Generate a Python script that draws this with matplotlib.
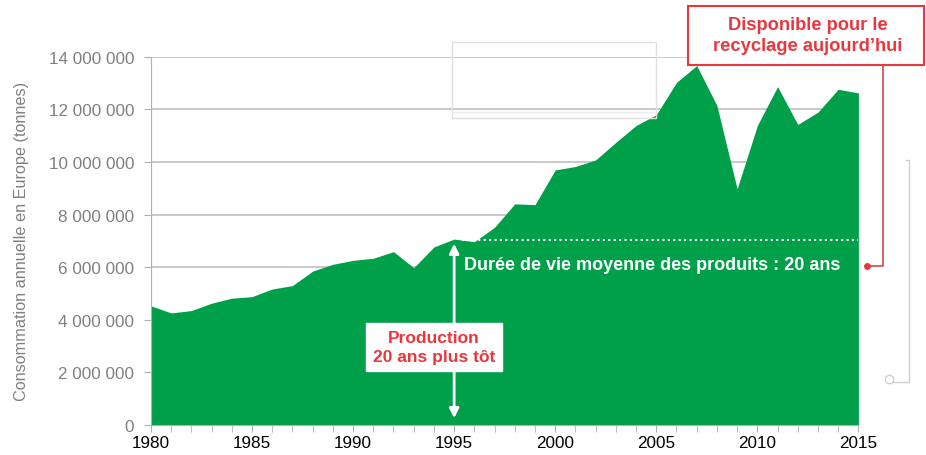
import numpy as np
import matplotlib
matplotlib.use("Agg")
import matplotlib.pyplot as plt
from matplotlib.ticker import FuncFormatter
from matplotlib.patches import Rectangle

# -------- Data --------
years = list(range(1980, 2016))
consumption = [4.53, 4.26, 4.35, 4.63, 4.82, 4.88, 5.17, 5.30, 5.85, 6.11,
               6.26, 6.34, 6.59, 5.98, 6.77, 7.07, 6.97, 7.52, 8.41, 8.38,
               9.70, 9.83, 10.08, 10.75, 11.39, 11.80, 13.03, 13.67, 12.15, 8.98,
               11.39, 12.87, 11.43, 11.90, 12.77, 12.63]
consumption = [v * 1e6 for v in consumption]
lifetime_level = 7.05e6
year_ticks = [1980, 1985, 1990, 1995, 2000, 2005, 2010, 2015]

green = '#009F4A'
red = '#E8383D'
grey = '#808080'

plt.rcParams['font.family'] = ['Liberation Sans', 'DejaVu Sans']

fig = plt.figure(figsize=(9.26, 4.56), dpi=100)
ax = fig.add_axes([0.163, 0.066, 0.764, 0.807])

ax.fill_between(years, consumption, 0, color=green, linewidth=0, zorder=2)

ax.set_xlim(1980, 2015)
ax.set_ylim(0, 14e6)
ax.set_yticks(np.arange(0, 14e6 + 1, 2e6))
ax.yaxis.set_major_formatter(FuncFormatter(lambda v, p: f"{int(v):,}".replace(",", " ")))
ax.set_xticks(year_ticks)
ax.set_xticks(years, minor=True)
ax.grid(axis='y', color='#C0C0C0', linewidth=1.2, zorder=1)

for s in ['top', 'right']:
    ax.spines[s].set_visible(False)
ax.spines['left'].set_color('#B0B0B0')
ax.spines['bottom'].set_color('#B0B0B0')
ax.spines['left'].set_zorder(3)

ax.tick_params(axis='y', colors='#B0B0B0', labelcolor=grey, labelsize=12.3, length=5, pad=7)
ax.tick_params(axis='x', which='both', colors='#B0B0B0', labelcolor='black', labelsize=12.3,
               length=5, direction='out', pad=2)
ax.set_ylabel("Consommation annuelle en Europe (tonnes)", color=grey, fontsize=11.7, labelpad=14)

# dotted lifetime line and text
ax.plot([1995.4, 2015], [lifetime_level, lifetime_level], color='white', linestyle=(0, (1, 1.6)),
        linewidth=1.5, zorder=4)
ax.text(1995.5, 6.12e6, "Durée de vie moyenne des produits : 20 ans", color='white',
        fontsize=13, fontweight='bold', va='center', ha='left', zorder=5)

# double arrow at 1995
ax.annotate('', xy=(1995, 0.15e6), xytext=(1995, 7.0e6),
            arrowprops=dict(arrowstyle='<|-|>', color='white', lw=2, mutation_scale=14), zorder=5)
ax.text(1994, 2.95e6, "Production\n20 ans plus tôt", color=red, fontsize=12.5, fontweight='bold',
        ha='center', va='center', linespacing=1.35, zorder=6,
        bbox=dict(boxstyle='square,pad=0.4', facecolor='white', edgecolor='white'))

# faint leftover boxes
fig.patches.append(Rectangle((452 / 926, 1 - 119 / 456), 204 / 926, 76 / 456, transform=fig.transFigure,
                             facecolor='none', edgecolor='#E0E0E0', linewidth=1, zorder=0))
fig.lines.append(plt.Line2D([452 / 926, 656 / 926], [1 - 113 / 456, 1 - 113 / 456],
                            transform=fig.transFigure, color='#EBEBEB', linewidth=1))
fig.lines.append(plt.Line2D([906 / 926, 909 / 926, 909 / 926, 891 / 926],
                            [1 - 161 / 456, 1 - 161 / 456, 1 - 383 / 456, 1 - 383 / 456],
                            transform=fig.transFigure, color='#D0D0D0', linewidth=1))
fig.lines.append(plt.Line2D([889 / 926], [1 - 380 / 456], transform=fig.transFigure, marker='o',
                            markersize=6, markerfacecolor='white', markeredgecolor='#D0D0D0'))

# red callout
fig.patches.append(Rectangle((688 / 926, 1 - 66 / 456), 236 / 926, 59 / 456, transform=fig.transFigure,
                             facecolor='white', edgecolor=red, linewidth=1.5))
fig.text(808 / 926, 1 - 36 / 456, "Disponible pour le\nrecyclage aujourd\u2019hui", color=red,
         fontsize=13.2, fontweight='bold', ha='center', va='center', linespacing=1.25)
fig.lines.append(plt.Line2D([883 / 926, 883 / 926, 868 / 926], [1 - 67 / 456, 1 - 267 / 456, 1 - 267 / 456],
                            transform=fig.transFigure, color='#D04848', linewidth=1.2))
fig.lines.append(plt.Line2D([867 / 926], [1 - 267 / 456], transform=fig.transFigure, marker='o',
                            markersize=4, color=red))

plt.savefig("out.png", dpi=100)
